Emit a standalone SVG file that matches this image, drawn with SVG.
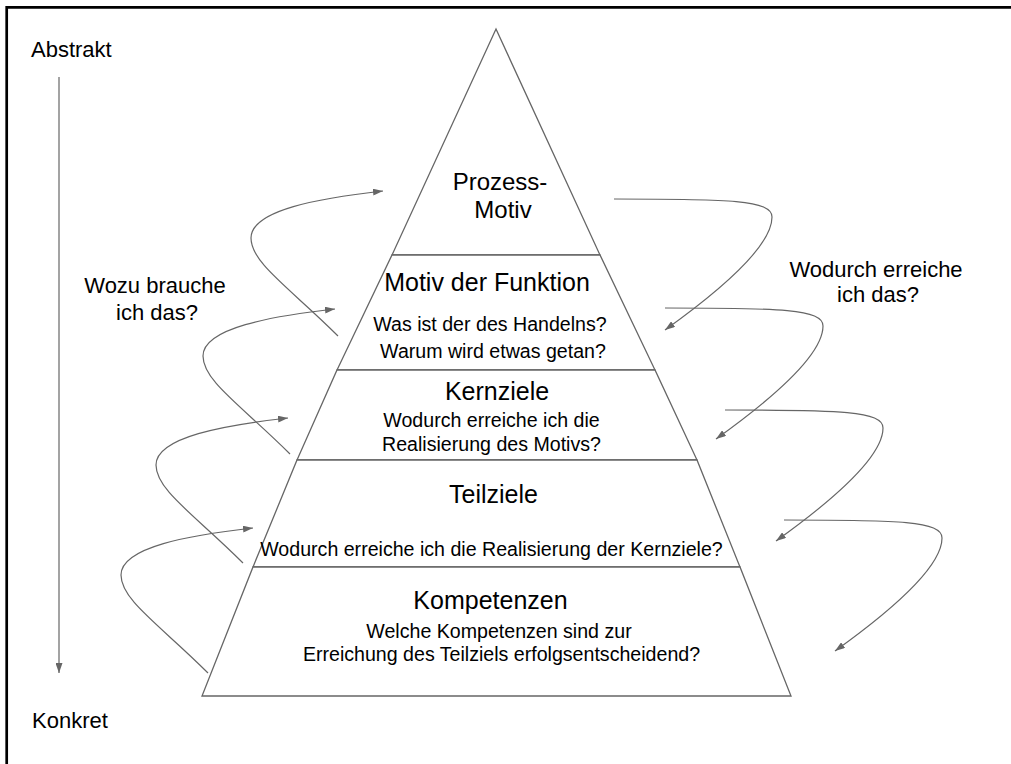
<svg xmlns="http://www.w3.org/2000/svg" width="1011" height="764" viewBox="0 0 1011 764">
<style>
text{font-family:"Liberation Sans",Arial,sans-serif;fill:#000}
.big{font-size:22px}
.title{font-size:25px;text-anchor:middle}
.apex{font-size:24px;text-anchor:middle}
.small{font-size:19.6px;text-anchor:middle}
.mid{text-anchor:middle}
.layer{fill:#fff;stroke:#666;stroke-width:1.3}
.conn{fill:none;stroke:#666;stroke-width:1.2;marker-end:url(#ah)}
</style>
<defs>
<marker id="ah" viewBox="0 0 10 7" refX="10" refY="3.5" markerWidth="10" markerHeight="7" markerUnits="userSpaceOnUse" orient="auto">
<path d="M0,0 L10,3.5 L0,7 z" fill="#666"/>
</marker>
</defs>
<rect width="1011" height="764" fill="#fff"/>
<path d="M6.7,764 V7.3 H1011" fill="none" stroke="#000" stroke-width="2.7"/>

<g id="axis-labels">
<text class="big" x="31" y="57">Abstrakt</text>
<text class="big" x="32" y="728">Konkret</text>
<text class="big mid" x="155" y="293">Wozu brauche</text>
<text class="big mid" x="157" y="320">ich das?</text>
<text class="big mid" x="876" y="277">Wodurch erreiche</text>
<text class="big mid" x="878" y="302">ich das?</text>
</g>

<g id="prozess-motiv">
<polygon class="layer" points="496,29 600,255 392,255"/>
<text class="apex" x="500" y="190">Prozess-</text>
<text class="apex" x="503" y="218">Motiv</text>
</g>
<g id="motiv-der-funktion">
<polygon class="layer" points="392,255 600,255 655,370 337,370"/>
<text class="title" x="487" y="291">Motiv der Funktion</text>
<text class="small" x="490" y="331">Was ist der des Handelns?</text>
<text class="small" x="493" y="358">Warum wird etwas getan?</text>
</g>
<g id="kernziele">
<polygon class="layer" points="337,370 655,370 697,460 297,460"/>
<text class="title" x="497" y="400">Kernziele</text>
<text class="small" x="491.5" y="427">Wodurch erreiche ich die</text>
<text class="small" x="491.5" y="451">Realisierung des Motivs?</text>
</g>
<g id="teilziele">
<polygon class="layer" points="297,460 697,460 740,567 253,567"/>
<text class="title" x="493.5" y="503">Teilziele</text>
<text class="small" x="491.5" y="556">Wodurch erreiche ich die Realisierung der Kernziele?</text>
</g>
<g id="kompetenzen">
<polygon class="layer" points="253,567 740,567 791,696 202,696"/>
<text class="title" x="490.5" y="609">Kompetenzen</text>
<text class="small" x="499" y="638">Welche Kompetenzen sind zur</text>
<text class="small" x="501.5" y="661">Erreichung des Teilziels erfolgsentscheidend?</text>
</g>

<g id="connectors">
<path class="conn" d="M59,77 V673"/>
<path class="conn" d="M338,336 c-48,-48 -87,-73 -87,-98 c0,-28 69,-40 132,-47"/>
<path class="conn" d="M290,454 c-48,-48 -87,-73 -87,-98 c0,-28 69,-40 132,-47"/>
<path class="conn" d="M243,563 c-48,-48 -87,-73 -87,-98 c0,-28 69,-40 132,-47"/>
<path class="conn" d="M208,673 c-48,-48 -87,-73 -87,-98 c0,-28 69,-40 132,-47"/>
<path class="conn" d="M614,199 c115,0 158,1 158,18 c0,25 -40,65 -107,113"/>
<path class="conn" d="M665,308 c115,0 158,1 158,18 c0,25 -40,65 -107,113"/>
<path class="conn" d="M725,410 c115,0 158,1 158,18 c0,25 -40,65 -107,113"/>
<path class="conn" d="M784,520 c115,0 158,1 158,18 c0,25 -40,65 -107,113"/>
</g>
</svg>
